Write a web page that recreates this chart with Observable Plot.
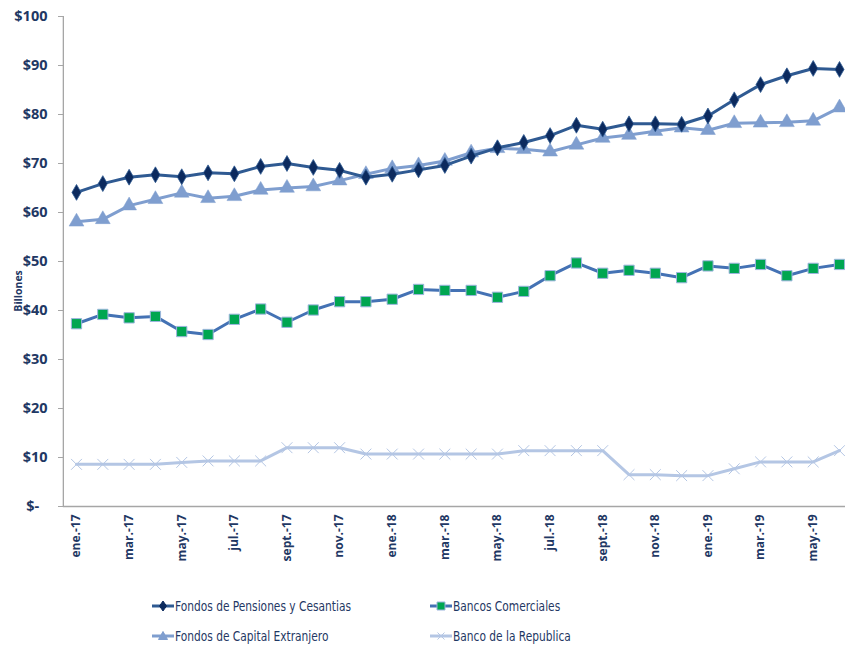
<!DOCTYPE html>
<html>
<head>
<meta charset="utf-8">
<script src="https://cdn.jsdelivr.net/npm/d3@7"></script>
<script src="https://cdn.jsdelivr.net/npm/@observablehq/plot@0.6"></script>
<style>
  html, body { margin: 0; padding: 0; background: #fff; }
  #wrap { position: relative; width: 845px; height: 647px; overflow: hidden; }
  .leg { position: absolute; display: flex; align-items: center; font-family: "DejaVu Sans Condensed", "DejaVu Sans", sans-serif; font-size: 14.5px; color: #1F3864; white-space: nowrap; }
  .leg svg { margin-right: 1px; flex: none; }
  .leg span { display: inline-block; transform-origin: 0 50%; }
</style>
</head>
<body>
<div id="wrap"></div>
<script>
const months = ["ene.-17","feb.-17","mar.-17","abr.-17","may.-17","jun.-17","jul.-17","ago.-17","sept.-17","oct.-17","nov.-17","dic.-17",
                "ene.-18","feb.-18","mar.-18","abr.-18","may.-18","jun.-18","jul.-18","ago.-18","sept.-18","oct.-18","nov.-18","dic.-18",
                "ene.-19","feb.-19","mar.-19","abr.-19","may.-19","jun.-19"];
const pensiones = [64.1,65.9,67.2,67.7,67.3,68.1,67.9,69.4,70.0,69.2,68.6,67.2,67.8,68.7,69.6,71.5,73.2,74.3,75.7,77.8,77.0,78.1,78.1,78.0,79.7,83.0,86.1,87.9,89.4,89.2];
const capital   = [58.1,58.6,61.4,62.7,64.0,62.9,63.3,64.6,65.0,65.3,66.5,67.8,69.0,69.6,70.5,72.2,73.1,72.9,72.4,73.8,75.2,75.8,76.6,77.3,76.8,78.2,78.3,78.4,78.7,81.4];
const bancos    = [37.3,39.2,38.5,38.8,35.7,35.1,38.2,40.3,37.6,40.1,41.8,41.8,42.3,44.3,44.1,44.1,42.7,43.9,47.1,49.7,47.6,48.2,47.6,46.7,49.1,48.6,49.4,47.1,48.6,49.4];
const republica = [8.6,8.6,8.6,8.6,9.0,9.3,9.3,9.3,12.0,12.0,12.0,10.7,10.7,10.7,10.7,10.7,10.7,11.4,11.4,11.4,11.4,6.5,6.5,6.3,6.3,7.7,9.1,9.1,9.1,11.4];
const seriesNames = ["Fondos de Pensiones y Cesantias","Bancos Comerciales","Fondos de Capital Extranjero","Banco de la Republica"];
const yTicks = [0,10,20,30,40,50,60,70,80,90,100];

const rows = (vals) => vals.map((v, i) => ({i, v}));
const dP = rows(pensiones), dC = rows(capital), dB = rows(bancos), dR = rows(republica);

const navy = "#1F3864";
const cPenLine = "#2F5A92", cPenMark = "#0C2A5E";
const cBanLine = "#4472B4", cBanMark = "#00A651", cBanEdge = "#9DB5DE";
const cCapLine = "#7F9ECF";
const cRepLine = "#B4C6E4";

const chart = Plot.plot({
  width: 845,
  height: 580,
  marginLeft: 63,
  marginTop: 16,
  marginBottom: 74,
  marginRight: 6,
  style: {fontFamily: "'Open Sans', sans-serif", background: "#fff", overflow: "visible"},
  x: {type: "linear", domain: [0, 29], range: [76, 839]},
  y: {domain: [0, 100], range: [506, 16]},
  marks: [
    Plot.ruleX([-0.5], {y1: 0, y2: 100, stroke: "#A6A6A6", strokeWidth: 1.3}),
    Plot.ruleY([0], {x1: -0.5, x2: 30, stroke: "#A6A6A6", strokeWidth: 1.3}),
    Plot.axisY({ticks: yTicks, tickSize: 5, tickPadding: 11, stroke: "#A6A6A6",
      tickFormat: d => d === 0 ? "$-\u2007" : "$" + d,
      fontSize: 14.5, fontWeight: "bold", fill: navy, label: null}),
    Plot.axisX({ticks: d3.range(0, 30, 2), tickSize: 0, tickPadding: 8, tickRotate: -90,
      tickFormat: i => months[i], fontSize: 12, fontWeight: "bold", fill: navy, label: null}),
    Plot.text(["Billones"], {x: -0.5, y: 44, rotate: -90, dx: -45, fontSize: 10.5, fontWeight: "bold", fill: navy}),
    Plot.line(dR, {x: "i", y: "v", stroke: cRepLine, strokeWidth: 3}),
    Plot.dot(dR, {x: "i", y: "v", symbol: "times", r: 5, stroke: cRepLine, strokeWidth: 1}),
    Plot.line(dB, {x: "i", y: "v", stroke: cBanLine, strokeWidth: 3}),
    Plot.dot(dB, {x: "i", y: "v", symbol: "square", r: 5.8, fill: cBanMark, stroke: cBanEdge, strokeWidth: 1}),
    Plot.line(dC, {x: "i", y: "v", stroke: cCapLine, strokeWidth: 3}),
    Plot.dot(dC, {x: "i", y: "v", symbol: "triangle", r: 5.5, fill: cCapLine, stroke: cCapLine, strokeWidth: 0.5}),
    Plot.line(dP, {x: "i", y: "v", stroke: cPenLine, strokeWidth: 3}),
    Plot.dot(dP, {x: "i", y: "v", symbol: "diamond", r: 4.8, fill: cPenMark, stroke: cPenLine, strokeWidth: 0.8})
  ]
});
const wrap = document.getElementById("wrap");
wrap.appendChild(chart);

// legend
function swatch(line, sym, fill, stroke) {
  const ns = "http://www.w3.org/2000/svg";
  const s = document.createElementNS(ns, "svg");
  s.setAttribute("width", 22); s.setAttribute("height", 12);
  const l = document.createElementNS(ns, "line");
  l.setAttribute("x1", 0); l.setAttribute("x2", 22); l.setAttribute("y1", 6); l.setAttribute("y2", 6);
  l.setAttribute("stroke", line); l.setAttribute("stroke-width", 3);
  s.appendChild(l);
  const p = document.createElementNS(ns, "path");
  let d = "";
  if (sym === "diamond") d = "M11,1 L14.5,6 L11,11 L7.5,6 Z";
  if (sym === "square") d = "M7,2 H15 V10 H7 Z";
  if (sym === "triangle") d = "M11,1.5 L15.5,9.5 H6.5 Z";
  if (sym === "times") d = "M7.5,2.5 L14.5,9.5 M14.5,2.5 L7.5,9.5";
  p.setAttribute("d", d);
  p.setAttribute("fill", sym === "times" ? "none" : fill);
  p.setAttribute("stroke", stroke);
  p.setAttribute("stroke-width", 1);
  s.appendChild(p);
  return s;
}
const legItems = [
  {name: seriesNames[0], left: 152, top: 598, sw: swatch(cPenLine, "diamond", cPenMark, cPenMark)},
  {name: seriesNames[1], left: 430, top: 598, sw: swatch(cBanLine, "square", cBanMark, cBanEdge)},
  {name: seriesNames[2], left: 152, top: 628, sw: swatch(cCapLine, "triangle", cCapLine, cCapLine)},
  {name: seriesNames[3], left: 430, top: 628, sw: swatch(cRepLine, "times", "none", cRepLine)}
];
const spans = [];
for (const it of legItems) {
  const div = document.createElement("div");
  div.className = "leg";
  div.style.left = it.left + "px";
  div.style.top = it.top + "px";
  div.appendChild(it.sw);
  const span = document.createElement("span");
  span.textContent = it.name;
  div.appendChild(span);
  wrap.appendChild(div);
  spans.push(span);
}
// compress the legend text horizontally to the reference's narrow face
const w0 = spans[0].getBoundingClientRect().width;
const k = w0 > 0 ? 176 / w0 : 1;
for (const s of spans) s.style.transform = `scaleX(${k})`;
</script>
</body>
</html>
